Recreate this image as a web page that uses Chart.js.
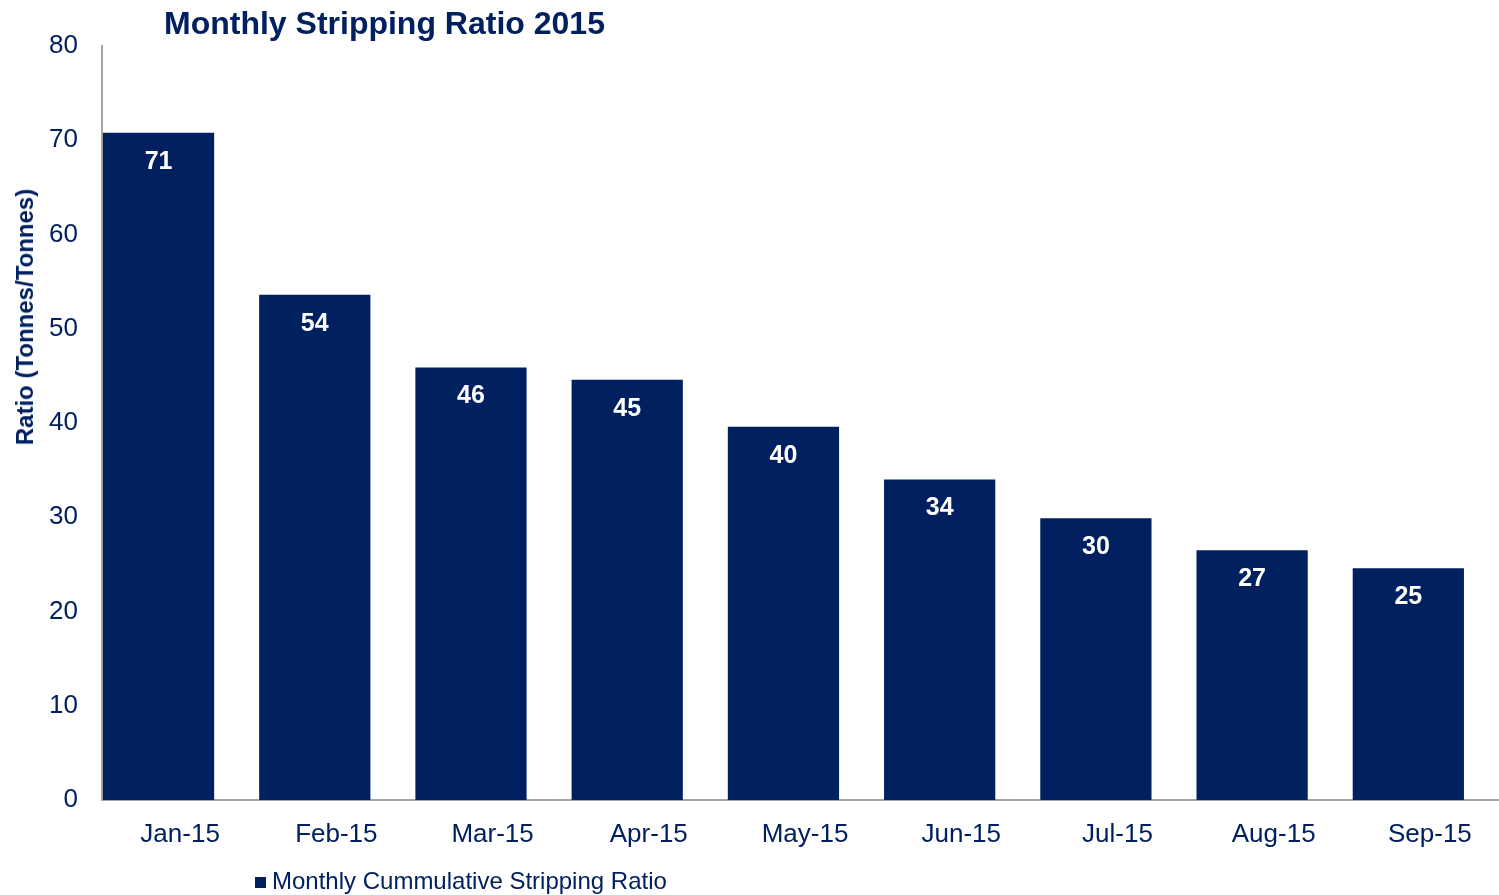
<!DOCTYPE html>
<html>
<head>
<meta charset="utf-8">
<title>Monthly Stripping Ratio 2015</title>
<script src="https://cdn.jsdelivr.net/npm/chart.js@4.4.0/dist/chart.umd.min.js"></script>
<style>
  html, body { margin: 0; padding: 0; background: #fff; overflow: hidden; }
  body { width: 1499px; height: 895px; position: relative; font-family: "Liberation Sans", Arial, sans-serif; color: #002060; }
  #wrap { position: absolute; left: 0; top: 0; width: 1510px; height: 895px; }
  #title { position: absolute; left: 164px; top: 4px; font-size: 32px; font-weight: bold; line-height: 38px; white-space: nowrap; }
  #ytitle { position: absolute; left: 25px; top: 317px; transform: translate(-50%, -50%) rotate(-90deg); font-size: 24px; font-weight: bold; white-space: nowrap; }
  #legend { position: absolute; left: 255px; top: 867px; font-size: 24px; line-height: 28px; white-space: nowrap; }
  #legend .sw { display: inline-block; width: 11px; height: 11px; background: #002060; margin-right: 6px; vertical-align: 1px; }
</style>
</head>
<body>
<div id="wrap"><canvas id="chart"></canvas></div>
<div id="title">Monthly Stripping Ratio 2015</div>
<div id="ytitle">Ratio (Tonnes/Tonnes)</div>
<div id="legend"><span class="sw"></span>Monthly Cummulative Stripping Ratio</div>
<script>
// data
var months = ["Jan-15", "Feb-15", "Mar-15", "Apr-15", "May-15", "Jun-15", "Jul-15", "Aug-15", "Sep-15"];
var strippingRatio = [70.8, 53.6, 45.9, 44.6, 39.6, 34.0, 29.9, 26.5, 24.6];
var yTicks = [0, 10, 20, 30, 40, 50, 60, 70, 80];
var seriesName = "Monthly Cummulative Stripping Ratio";

var navy = "#002060";
var axisGrey = "#a6a6a6";
var barShift = 0.138; // bars sit a little left of the category centre, like the original

// white value labels inside the top of each bar
var valueLabels = {
  id: "valueLabels",
  afterDatasetsDraw: function(chart) {
    var ctx = chart.ctx;
    var meta = chart.getDatasetMeta(0);
    ctx.save();
    ctx.fillStyle = "#ffffff";
    ctx.font = "bold 25px 'Liberation Sans', Arial, sans-serif";
    ctx.textAlign = "center";
    ctx.textBaseline = "middle";
    meta.data.forEach(function(bar, i) {
      ctx.fillText(Math.round(strippingRatio[i]), bar.x, bar.y + 29);
    });
    ctx.restore();
  }
};

var ctx = document.getElementById("chart");
new Chart(ctx, {
  type: "bar",
  data: {
    labels: months,
    datasets: [{
      label: seriesName,
      data: strippingRatio.map(function(v, i) { return { x: i, y: v }; }),
      backgroundColor: navy,
      borderWidth: 0,
      xAxisID: "xb",
      categoryPercentage: 1,
      barPercentage: 0.712
    }]
  },
  options: {
    responsive: true,
    maintainAspectRatio: false,
    animation: false,
    layout: { padding: { top: 46, right: 2, bottom: 0, left: 0 } },
    plugins: {
      legend: { display: false },
      title: { display: false },
      tooltip: { enabled: false }
    },
    scales: {
      x: {
        type: "category",
        position: "bottom",
        offset: true,
        grid: { display: false, drawTicks: false },
        border: { display: true, color: axisGrey, width: 2 },
        ticks: {
          color: navy,
          padding: 19,
          font: { size: 26, family: "'Liberation Sans', Arial, sans-serif" },
          maxRotation: 0
        },
        afterFit: function(scale) { scale.height = 95; }
      },
      xb: {
        type: "linear",
        position: "bottom",
        display: false,
        offset: false,
        min: -0.5 + barShift,
        max: months.length - 0.5 + barShift,
        ticks: { stepSize: 1, includeBounds: false }
      },
      y: {
        min: yTicks[0],
        max: yTicks[yTicks.length - 1],
        afterBuildTicks: function(scale) {
          scale.ticks = yTicks.map(function(v) { return { value: v }; });
        },
        grid: { display: false, drawTicks: false },
        border: { display: true, color: axisGrey, width: 2 },
        ticks: {
          color: navy,
          padding: 24,
          font: { size: 26, family: "'Liberation Sans', Arial, sans-serif" }
        },
        afterFit: function(scale) { scale.width = 102; }
      }
    }
  },
  plugins: [valueLabels]
});
</script>
</body>
</html>
